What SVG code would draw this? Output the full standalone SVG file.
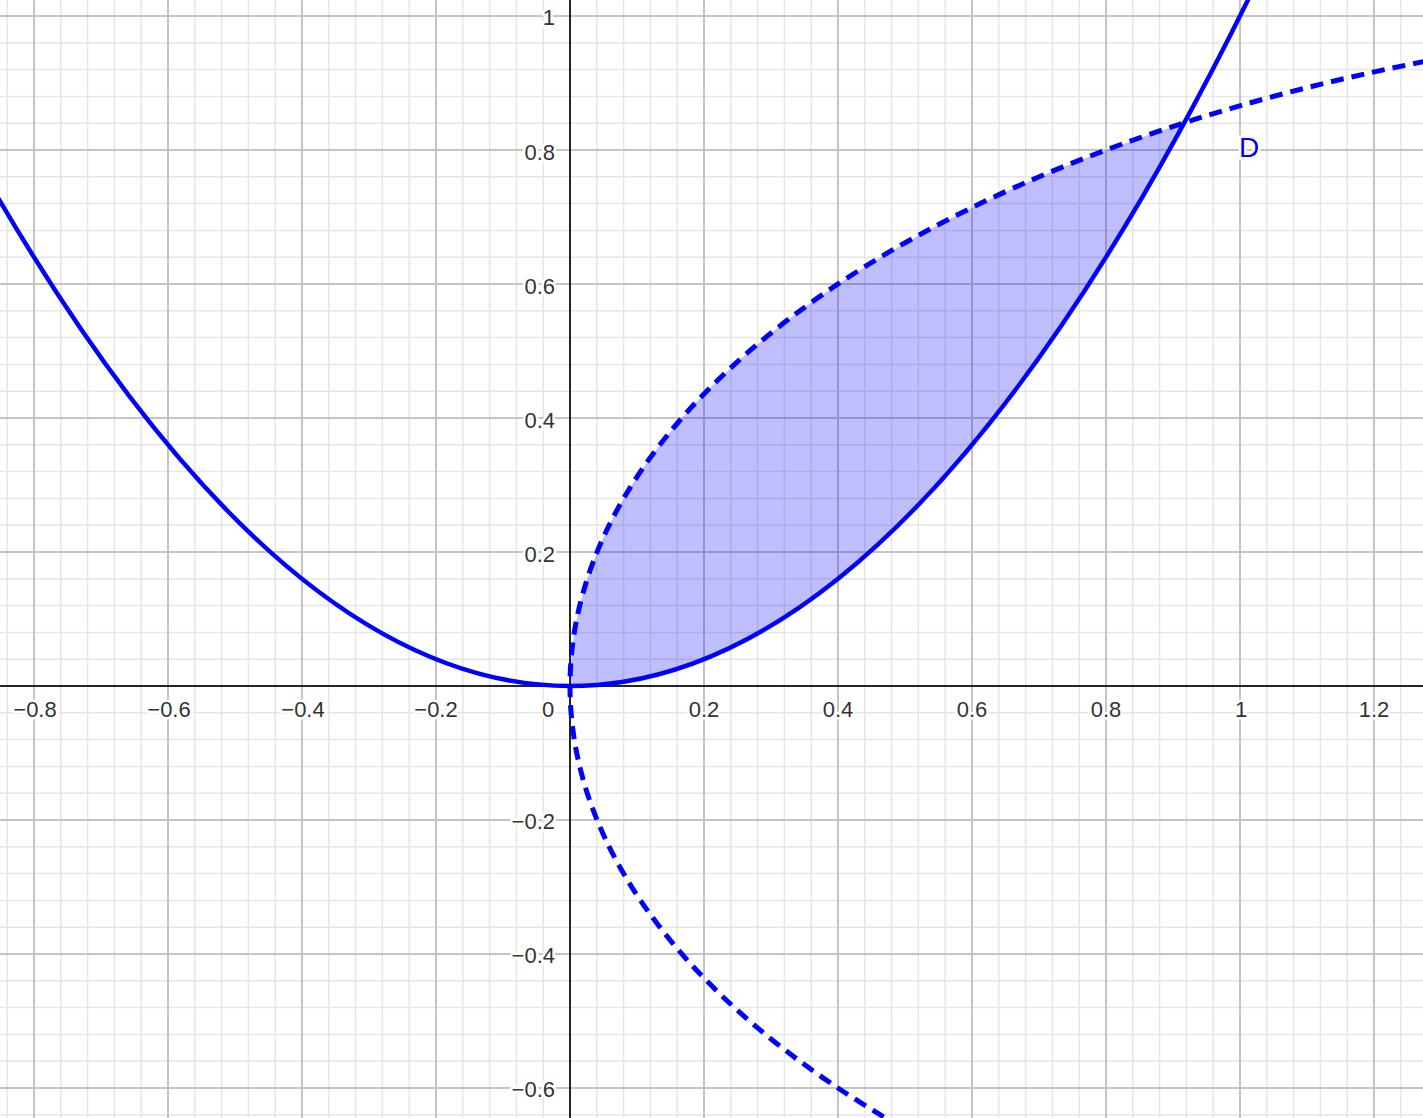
<svg xmlns="http://www.w3.org/2000/svg" width="1423" height="1118" viewBox="0 0 1423 1118">
<style>
.minor{stroke:#e6e6e6;stroke-width:1.5;fill:none}
.major{stroke:#c4c4c4;stroke-width:2;fill:none}
.axis{stroke:#252525;stroke-width:2;fill:none}
.lbl{font-family:"Liberation Sans",Arial,sans-serif;font-size:22px;fill:#333;stroke:#fff;stroke-width:5;paint-order:stroke;stroke-linejoin:round}
.xl{text-anchor:middle}
.yl{text-anchor:end}
.curve{stroke:#0000ff;stroke-width:4.5;fill:none}
.dash{stroke-dasharray:13 8;stroke-width:5}
</style>
<rect width="1423" height="1118" fill="#ffffff"/>
<g id="grid">
<path class="minor" d="M7.2 0V1118M34 0V1118M60.8 0V1118M87.6 0V1118M114.4 0V1118M141.2 0V1118M168 0V1118M194.8 0V1118M221.6 0V1118M248.4 0V1118M275.2 0V1118M302 0V1118M328.8 0V1118M355.6 0V1118M382.4 0V1118M409.2 0V1118M436 0V1118M462.8 0V1118M489.6 0V1118M516.4 0V1118M543.2 0V1118M596.8 0V1118M623.6 0V1118M650.4 0V1118M677.2 0V1118M704 0V1118M730.8 0V1118M757.6 0V1118M784.4 0V1118M811.2 0V1118M838 0V1118M864.8 0V1118M891.6 0V1118M918.4 0V1118M945.2 0V1118M972 0V1118M998.8 0V1118M1025.6 0V1118M1052.4 0V1118M1079.2 0V1118M1106 0V1118M1132.8 0V1118M1159.6 0V1118M1186.4 0V1118M1213.2 0V1118M1240 0V1118M1266.8 0V1118M1293.6 0V1118M1320.4 0V1118M1347.2 0V1118M1374 0V1118M1400.8 0V1118
M0 16H1423M0 42.8H1423M0 69.6H1423M0 96.4H1423M0 123.2H1423M0 150H1423M0 176.8H1423M0 203.6H1423M0 230.4H1423M0 257.2H1423M0 284H1423M0 310.8H1423M0 337.6H1423M0 364.4H1423M0 391.2H1423M0 418H1423M0 444.8H1423M0 471.6H1423M0 498.4H1423M0 525.2H1423M0 552H1423M0 578.8H1423M0 605.6H1423M0 632.4H1423M0 659.2H1423M0 712.8H1423M0 739.6H1423M0 766.4H1423M0 793.2H1423M0 820H1423M0 846.8H1423M0 873.6H1423M0 900.4H1423M0 927.2H1423M0 954H1423M0 980.8H1423M0 1007.6H1423M0 1034.4H1423M0 1061.2H1423M0 1088H1423M0 1114.8H1423"/>
<path class="major" d="M34 0V1118M168 0V1118M302 0V1118M436 0V1118M704 0V1118M838 0V1118M972 0V1118M1106 0V1118M1240 0V1118M1374 0V1118M0 16H1423M0 150H1423M0 284H1423M0 418H1423M0 552H1423M0 820H1423M0 954H1423M0 1088H1423"/>
</g>
<g id="axes">
<path class="axis" d="M0 686H1423M570 0V1118"/>
</g>
<g id="region">
<path d="M570 686Q877.1 686 1184.3 122.9A1340 670 0 0 0 570 686Z" fill="#0000ff" fill-opacity="0.25"/>
</g>
<g id="labels">
<text class="lbl xl" x="35" y="717">−0.8</text>
<text class="lbl xl" x="169" y="717">−0.6</text>
<text class="lbl xl" x="303" y="717">−0.4</text>
<text class="lbl xl" x="436" y="717">−0.2</text>
<text class="lbl xl" x="548" y="717">0</text>
<text class="lbl xl" x="704" y="717">0.2</text>
<text class="lbl xl" x="838" y="717">0.4</text>
<text class="lbl xl" x="972" y="717">0.6</text>
<text class="lbl xl" x="1106" y="717">0.8</text>
<text class="lbl xl" x="1241" y="717">1</text>
<text class="lbl xl" x="1374" y="717">1.2</text>
<text class="lbl yl" x="555" y="25">1</text>
<text class="lbl yl" x="555" y="160">0.8</text>
<text class="lbl yl" x="555" y="294">0.6</text>
<text class="lbl yl" x="555" y="428">0.4</text>
<text class="lbl yl" x="555" y="562">0.2</text>
<text class="lbl yl" x="555" y="829">−0.2</text>
<text class="lbl yl" x="555" y="963">−0.4</text>
<text class="lbl yl" x="555" y="1097">−0.6</text>
</g>
<g id="connectors">
<ellipse id="ellipse-D" class="curve dash" cx="1910" cy="686" rx="1340" ry="670"/>
<path id="parabola" class="curve" d="M-12.9 178.9Q623.6 1286.4 1260.1 -24.8"/>
</g>
<g id="label-D">
<text x="1239" y="157" font-family="Liberation Sans,Arial,sans-serif" font-size="28" fill="#0000ff" stroke="#fff" stroke-width="5" paint-order="stroke">D</text>
</g>
</svg>
